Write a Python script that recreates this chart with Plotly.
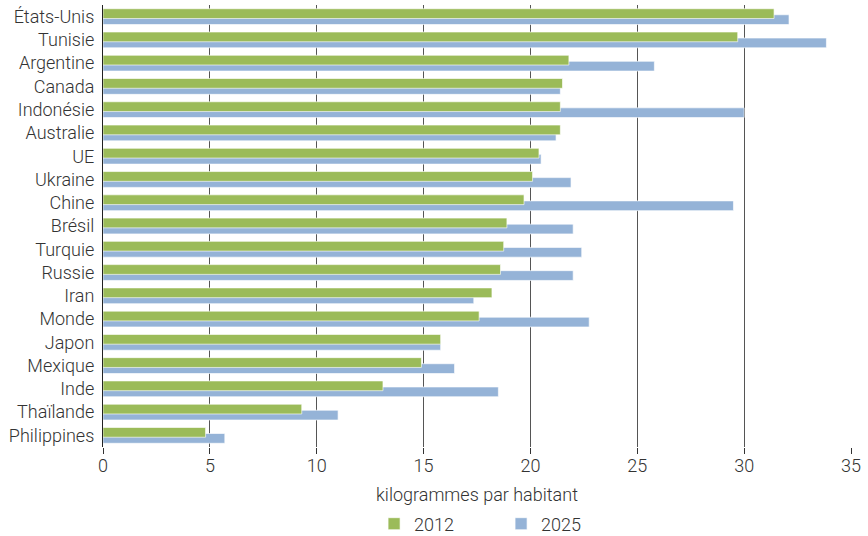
import plotly.graph_objects as go

categories = ["États-Unis", "Tunisie", "Argentine", "Canada", "Indonésie", "Australie", "UE",
              "Ukraine", "Chine", "Brésil", "Turquie", "Russie", "Iran", "Monde", "Japon",
              "Mexique", "Inde", "Thaïlande", "Philippines"]
values_2012 = [31.4, 29.7, 21.8, 21.5, 21.4, 21.4, 20.4, 20.1, 19.7, 18.9, 18.75, 18.6, 18.2,
               17.6, 15.8, 14.9, 13.1, 9.3, 4.8]
values_2025 = [32.1, 33.85, 25.8, 21.4, 30.0, 21.2, 20.5, 21.9, 29.5, 22.0, 22.4, 22.0, 17.35,
               22.75, 15.8, 16.45, 18.5, 11.0, 5.7]
x_ticks = [0, 5, 10, 15, 20, 25, 30, 35]

green = "#9BBB59"
blue = "#95B3D7"
font_family = "Roboto, 'Liberation Sans', Arial, sans-serif"
font_size = 18

fig = go.Figure()
fig.add_trace(go.Bar(
    y=categories, x=values_2025, orientation="h", name="2025",
    marker=dict(color=blue, line=dict(color="rgba(255,255,255,0.8)", width=0.8)),
    width=0.42, offset=-0.08, legendrank=2,
))
fig.add_trace(go.Bar(
    y=categories, x=values_2012, orientation="h", name="2012",
    marker=dict(color=green, line=dict(color="rgba(255,255,255,0.8)", width=0.8)),
    width=0.42, offset=-0.34, legendrank=1,
))

fig.update_layout(
    width=868, height=536,
    margin=dict(l=103, r=17, t=5, b=89, autoexpand=False),
    barmode="overlay",
    plot_bgcolor="white", paper_bgcolor="white",
    font=dict(family=font_family, size=font_size, color="#333333", weight=300),
    showlegend=True,
    legend=dict(orientation="h", x=0.3624, xanchor="left", xref="paper",
                y=0.0224, yanchor="middle", yref="container",
                font=dict(size=font_size, weight=300), itemwidth=30, entrywidth=82),
    xaxis=dict(
        range=[0, 35], tickvals=x_ticks, showgrid=True, gridcolor="#555555", gridwidth=1.2,
        zeroline=False, ticks="outside", ticklen=6, tickcolor="#333333",
        ticklabelstandoff=-4,
        title=dict(text="kilogrammes par habitant", standoff=13, font=dict(size=font_size, weight=300)),
        tickfont=dict(size=font_size, weight=300), fixedrange=True, automargin=False,
    ),
    yaxis=dict(
        autorange="reversed", showline=True, linecolor="#222222", linewidth=1.2,
        ticks="", ticklabelstandoff=4, tickfont=dict(size=font_size, weight=300),
        showgrid=False, automargin=False, fixedrange=True,
    ),
)

fig.write_html("out.html", config={"displayModeBar": False},
               post_script="document.body.style.margin='0';")
